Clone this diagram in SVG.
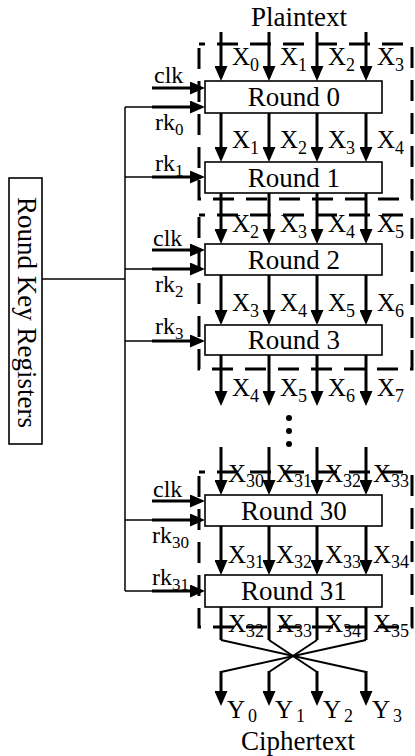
<svg xmlns="http://www.w3.org/2000/svg" width="415" height="756" viewBox="0 0 415 756">
<style>
text{font-family:"Liberation Serif","Times New Roman",serif;fill:#000}
.big{font-size:27px}
.lab{font-size:25px}
.sub{font-size:18px}
.sm{font-size:24px}
.ssub{font-size:17px}
.box{fill:#fff;stroke:#000;stroke-width:1.6}
.dash{fill:none;stroke:#000;stroke-width:3;stroke-dasharray:21 12;stroke-dashoffset:15}
.arr{stroke:#000;stroke-width:3;fill:none;marker-end:url(#ah)}
.thin{stroke:#000;stroke-width:1.5;fill:none}
.mid{stroke:#000;stroke-width:2;fill:none}
.thick{stroke:#000;stroke-width:3;fill:none}
</style>
<defs>
<marker id="ah" viewBox="0 0 15 13" refX="11" refY="6.5" markerWidth="15" markerHeight="13" markerUnits="userSpaceOnUse" orient="auto">
<path d="M0,0 L15,6.5 L0,13 z" fill="#000"/>
</marker>
</defs>

<g id="stage1">
<rect class="dash" x="199" y="44" width="213" height="155"/>
</g>
<g id="stage2">
<rect class="dash" x="199" y="215" width="213" height="154"/>
</g>
<g id="stage3">
<rect class="dash" x="199" y="472" width="213" height="155"/>
</g>

<g id="connectors">
<line class="arr" x1="221" y1="32" x2="221" y2="77"/>
<line class="arr" x1="269" y1="32" x2="269" y2="77"/>
<line class="arr" x1="317" y1="32" x2="317" y2="77"/>
<line class="arr" x1="366" y1="32" x2="366" y2="77"/>
<line class="arr" x1="221" y1="113" x2="221" y2="158"/>
<line class="arr" x1="269" y1="113" x2="269" y2="158"/>
<line class="arr" x1="317" y1="113" x2="317" y2="158"/>
<line class="arr" x1="366" y1="113" x2="366" y2="158"/>
<line class="arr" x1="221" y1="193" x2="221" y2="240"/>
<line class="arr" x1="269" y1="193" x2="269" y2="240"/>
<line class="arr" x1="317" y1="193" x2="317" y2="240"/>
<line class="arr" x1="366" y1="193" x2="366" y2="240"/>
<line class="arr" x1="221" y1="275" x2="221" y2="321"/>
<line class="arr" x1="269" y1="275" x2="269" y2="321"/>
<line class="arr" x1="317" y1="275" x2="317" y2="321"/>
<line class="arr" x1="366" y1="275" x2="366" y2="321"/>
<line class="arr" x1="221" y1="355" x2="221" y2="402"/>
<line class="arr" x1="269" y1="355" x2="269" y2="402"/>
<line class="arr" x1="317" y1="355" x2="317" y2="402"/>
<line class="arr" x1="366" y1="355" x2="366" y2="402"/>
<line class="arr" x1="221" y1="447" x2="221" y2="491"/>
<line class="arr" x1="269" y1="447" x2="269" y2="491"/>
<line class="arr" x1="317" y1="447" x2="317" y2="491"/>
<line class="arr" x1="366" y1="447" x2="366" y2="491"/>
<line class="arr" x1="221" y1="526" x2="221" y2="571"/>
<line class="arr" x1="269" y1="526" x2="269" y2="571"/>
<line class="arr" x1="317" y1="526" x2="317" y2="571"/>
<line class="arr" x1="366" y1="526" x2="366" y2="571"/>
<line class="thick" x1="221" y1="607" x2="221" y2="640"/>
<line class="thick" x1="269" y1="607" x2="269" y2="640"/>
<line class="thick" x1="317" y1="607" x2="317" y2="640"/>
<line class="thick" x1="366" y1="607" x2="366" y2="640"/>
<line class="mid" x1="221" y1="640" x2="366" y2="672"/>
<line class="mid" x1="269" y1="640" x2="317" y2="672"/>
<line class="mid" x1="317" y1="640" x2="269" y2="672"/>
<line class="mid" x1="366" y1="640" x2="221" y2="672"/>
<line class="arr" x1="221" y1="671" x2="221" y2="702"/>
<line class="arr" x1="269" y1="671" x2="269" y2="702"/>
<line class="arr" x1="317" y1="671" x2="317" y2="702"/>
<line class="arr" x1="366" y1="671" x2="366" y2="702"/>

<line class="thin" x1="42" y1="279" x2="125" y2="279"/>
<line class="thin" x1="125" y1="107" x2="125" y2="591"/>
<line class="thin" x1="125" y1="107" x2="153" y2="107"/>
<line class="thin" x1="125" y1="177" x2="153" y2="177"/>
<line class="thin" x1="125" y1="269" x2="153" y2="269"/>
<line class="thin" x1="125" y1="341" x2="153" y2="341"/>
<line class="thin" x1="125" y1="520" x2="153" y2="520"/>
<line class="thin" x1="125" y1="591" x2="153" y2="591"/>
<line class="arr" x1="152" y1="107" x2="201" y2="107"/>
<line class="arr" x1="152" y1="177" x2="201" y2="177"/>
<line class="arr" x1="152" y1="269" x2="201" y2="269"/>
<line class="arr" x1="152" y1="341" x2="201" y2="341"/>
<line class="arr" x1="152" y1="520" x2="201" y2="520"/>
<line class="arr" x1="152" y1="591" x2="201" y2="591"/>
<line class="arr" x1="152" y1="88" x2="201" y2="88"/>
<line class="arr" x1="152" y1="250" x2="201" y2="250"/>
<line class="arr" x1="152" y1="501" x2="201" y2="501"/>
</g>

<g id="round0"><rect class="box" x="205" y="81" width="177" height="32"/><text class="big" x="294" y="106" text-anchor="middle">Round 0</text></g>
<g id="round1"><rect class="box" x="205" y="162" width="177" height="31"/><text class="big" x="294" y="187" text-anchor="middle">Round 1</text></g>
<g id="round2"><rect class="box" x="205" y="244" width="177" height="31"/><text class="big" x="294" y="269" text-anchor="middle">Round 2</text></g>
<g id="round3"><rect class="box" x="205" y="325" width="177" height="30"/><text class="big" x="294" y="349" text-anchor="middle">Round 3</text></g>
<g id="round30"><rect class="box" x="205" y="495" width="177" height="31"/><text class="big" x="294" y="520" text-anchor="middle">Round 30</text></g>
<g id="round31"><rect class="box" x="205" y="575" width="177" height="32"/><text class="big" x="294" y="600" text-anchor="middle">Round 31</text></g>

<g id="keyregs">
<rect class="box" x="9" y="178" width="33" height="266"/>
<text x="0" y="0" transform="translate(18,312.5) rotate(90)" text-anchor="middle" style="font-size:27px">Round Key Registers</text>
</g>

<g id="dots">
<circle cx="289" cy="418" r="3"/>
<circle cx="289" cy="431" r="3"/>
<circle cx="289" cy="444" r="3"/>
</g>

<g id="labels">
<text class="big" x="299" y="26" text-anchor="middle">Plaintext</text>
<text class="big" x="298" y="750" text-anchor="middle">Ciphertext</text>

<text class="lab" x="232" y="65">X<tspan class="sub" dy="6">0</tspan></text>
<text class="lab" x="280" y="65">X<tspan class="sub" dy="6">1</tspan></text>
<text class="lab" x="328" y="65">X<tspan class="sub" dy="6">2</tspan></text>
<text class="lab" x="377" y="65">X<tspan class="sub" dy="6">3</tspan></text>

<text class="lab" x="232" y="148">X<tspan class="sub" dy="6">1</tspan></text>
<text class="lab" x="280" y="148">X<tspan class="sub" dy="6">2</tspan></text>
<text class="lab" x="328" y="148">X<tspan class="sub" dy="6">3</tspan></text>
<text class="lab" x="377" y="148">X<tspan class="sub" dy="6">4</tspan></text>

<text class="lab" x="232" y="232">X<tspan class="sub" dy="6">2</tspan></text>
<text class="lab" x="280" y="232">X<tspan class="sub" dy="6">3</tspan></text>
<text class="lab" x="328" y="232">X<tspan class="sub" dy="6">4</tspan></text>
<text class="lab" x="377" y="232">X<tspan class="sub" dy="6">5</tspan></text>

<text class="lab" x="232" y="311">X<tspan class="sub" dy="6">3</tspan></text>
<text class="lab" x="280" y="311">X<tspan class="sub" dy="6">4</tspan></text>
<text class="lab" x="328" y="311">X<tspan class="sub" dy="6">5</tspan></text>
<text class="lab" x="377" y="311">X<tspan class="sub" dy="6">6</tspan></text>

<text class="lab" x="232" y="396">X<tspan class="sub" dy="6">4</tspan></text>
<text class="lab" x="280" y="396">X<tspan class="sub" dy="6">5</tspan></text>
<text class="lab" x="328" y="396">X<tspan class="sub" dy="6">6</tspan></text>
<text class="lab" x="377" y="396">X<tspan class="sub" dy="6">7</tspan></text>

<text class="lab" x="228" y="482">X<tspan class="sub" dy="5">30</tspan></text>
<text class="lab" x="276" y="482">X<tspan class="sub" dy="5">31</tspan></text>
<text class="lab" x="325" y="482">X<tspan class="sub" dy="5">32</tspan></text>
<text class="lab" x="373" y="482">X<tspan class="sub" dy="5">33</tspan></text>

<text class="lab" x="228" y="563">X<tspan class="sub" dy="5">31</tspan></text>
<text class="lab" x="276" y="563">X<tspan class="sub" dy="5">32</tspan></text>
<text class="lab" x="325" y="563">X<tspan class="sub" dy="5">33</tspan></text>
<text class="lab" x="373" y="563">X<tspan class="sub" dy="5">34</tspan></text>

<text class="lab" x="228" y="632">X<tspan class="sub" dy="5">32</tspan></text>
<text class="lab" x="276" y="632">X<tspan class="sub" dy="5">33</tspan></text>
<text class="lab" x="325" y="632">X<tspan class="sub" dy="5">34</tspan></text>
<text class="lab" x="373" y="632">X<tspan class="sub" dy="5">35</tspan></text>

<text class="lab" x="227" y="718">Y<tspan class="sub" dx="3" dy="4">0</tspan></text>
<text class="lab" x="275" y="718">Y<tspan class="sub" dx="3" dy="4">1</tspan></text>
<text class="lab" x="323" y="718">Y<tspan class="sub" dx="3" dy="4">2</tspan></text>
<text class="lab" x="372" y="718">Y<tspan class="sub" dx="3" dy="4">3</tspan></text>

<text class="sm" x="154" y="83">clk</text>
<text class="sm" x="155" y="130">rk<tspan class="ssub" dy="5">0</tspan></text>
<text class="sm" x="155" y="171">rk<tspan class="ssub" dy="5">1</tspan></text>
<text class="sm" x="153" y="246">clk</text>
<text class="sm" x="155" y="292">rk<tspan class="ssub" dy="5">2</tspan></text>
<text class="sm" x="155" y="334">rk<tspan class="ssub" dy="5">3</tspan></text>
<text class="sm" x="153" y="497">clk</text>
<text class="sm" x="152" y="543">rk<tspan class="ssub" dy="5">30</tspan></text>
<text class="sm" x="152" y="585">rk<tspan class="ssub" dy="5">31</tspan></text>
</g>
</svg>
